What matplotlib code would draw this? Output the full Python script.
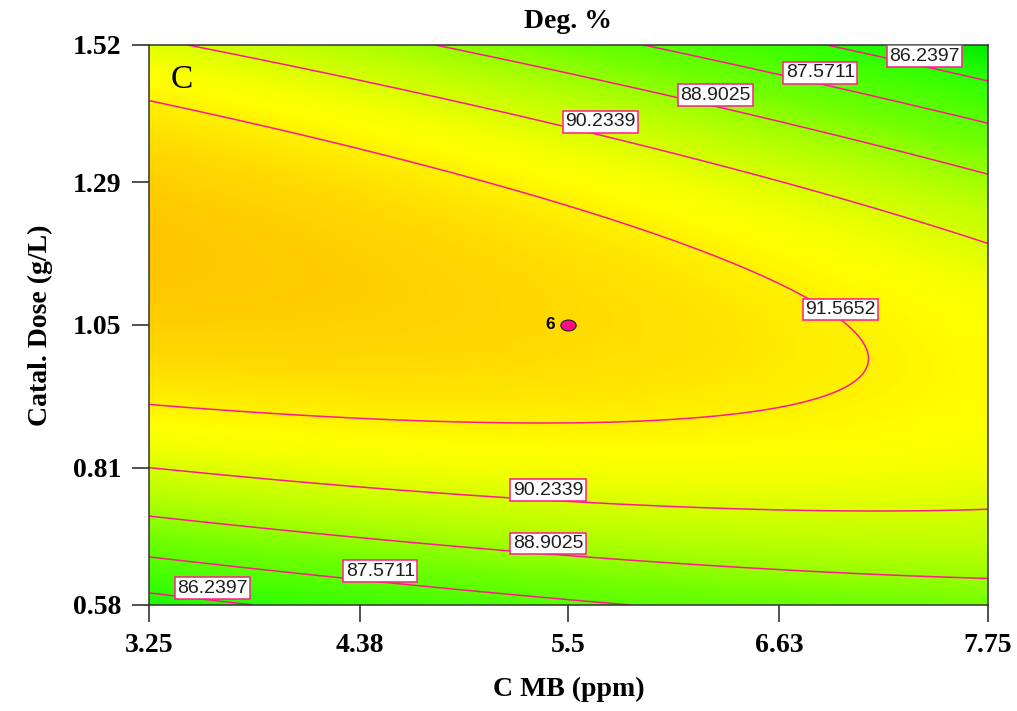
import numpy as np
import matplotlib
matplotlib.use("Agg")
import matplotlib.pyplot as plt
from matplotlib.colors import LinearSegmentedColormap
from matplotlib.markers import MarkerStyle
from matplotlib.transforms import Affine2D

# ---------------- data ----------------
# factor ranges (actual units)
x_range = [3.25, 7.75]          # C MB (ppm)
y_range = [0.58, 1.52]          # Catal. Dose (g/L)
x_ticks = [3.25, 4.38, 5.5, 6.63, 7.75]
x_tick_labels = ["3.25", "4.38", "5.5", "6.63", "7.75"]
y_ticks = [0.58, 0.81, 1.05, 1.29, 1.52]
y_tick_labels = ["0.58", "0.81", "1.05", "1.29", "1.52"]

# quadratic response-surface model in coded factors A, B
# Deg = b0 + bA*A + bB*B + bAB*A*B + bAA*A^2 + bBB*B^2
model_terms = ["b0", "bA", "bB", "bAB", "bAA", "bBB"]
model_coefs = [92.234, -0.746, 0.34, -1.99, -0.392, -4.5]

contour_levels = [86.2397, 87.5711, 88.9025, 90.2339, 91.5652]

# center point (design point, 6 replicates)
center_x = [5.5]
center_y = [1.05]
center_count = ["6"]

# colour scale (response value -> colour)
color_values = [84.9, 86.2, 88.2, 88.9, 89.6, 90.2, 90.8, 91.2, 92.2, 92.9]
color_list = ["#00EB00", "#2CFF00", "#72FF00", "#98FF00", "#BCFF00",
              "#D6FF00", "#F4FF00", "#FFFF00", "#FFDC00", "#FFC600"]

# label placement (layout only)
label_positions = [(7.41, 1.5015), (6.85, 1.4735), (6.29, 1.436), (5.67, 1.391),
                   (6.96, 1.076), (5.39, 0.773), (5.39, 0.6835), (4.49, 0.637),
                   (3.59, 0.608)]

# ---------------- figure ----------------
plt.rcParams['font.family'] = ['Liberation Serif', 'DejaVu Serif']
fig = plt.figure(figsize=(10.17, 7.11), dpi=100)
ax = fig.add_axes([149/1017, 1-605/711, 839/1017, 560/711])

xc = 0.5*(x_range[0]+x_range[1]); xh = 0.5*(x_range[1]-x_range[0])
yc = 0.5*(y_range[0]+y_range[1]); yh = 0.5*(y_range[1]-y_range[0])

xs = np.linspace(x_range[0], x_range[1], 400)
ys = np.linspace(y_range[0], y_range[1], 300)
X, Y = np.meshgrid(xs, ys)
A = (X - xc)/xh
B = (Y - yc)/yh
c = dict(zip(model_terms, model_coefs))
Z = (c["b0"] + c["bA"]*A + c["bB"]*B + c["bAB"]*A*B
     + c["bAA"]*A**2 + c["bBB"]*B**2)

vmin, vmax = color_values[0], color_values[-1]
nodes = [(v - vmin)/(vmax - vmin) for v in color_values]
cmap = LinearSegmentedColormap.from_list("de", list(zip(nodes, color_list)))

ax.imshow(Z, origin="lower", extent=[x_range[0], x_range[1], y_range[0], y_range[1]],
          aspect="auto", cmap=cmap, vmin=vmin, vmax=vmax, interpolation="bilinear")

line_color = "#FF1A8C"
cs = ax.contour(X, Y, Z, levels=contour_levels, colors=line_color, linewidths=1.1)
labels = ax.clabel(cs, fmt="%.4f", inline=False, fontsize=14, manual=label_positions)
for t, pos in zip(labels, label_positions):
    t.set_position(pos)
    t.set_fontfamily(['Liberation Sans', 'DejaVu Sans'])
    t.set_rotation(0)
    t.set_color("#1E1E1E")
    t.set_zorder(5)
    t.set_bbox(dict(facecolor="white", edgecolor=line_color, linewidth=1.1,
                    boxstyle="square,pad=0.12"))

# center point
ell = MarkerStyle("o", transform=Affine2D().scale(1.4, 1.0))
ax.plot(center_x, center_y, linestyle="none", marker=ell, markersize=7.9,
        markerfacecolor="#FF0A82", markeredgecolor="#202020", markeredgewidth=0.8)
for xx, yy, s in zip(center_x, center_y, center_count):
    ax.annotate(s, (xx, yy), xytext=(-13, 0), textcoords="offset points",
                ha="center", va="center", fontsize=12.5, fontweight="bold",
                family=['Liberation Sans', 'DejaVu Sans'])

ax.set_xlim(x_range)
ax.set_ylim(y_range)
ax.set_xticks(x_ticks)
ax.set_xticklabels(x_tick_labels)
ax.set_yticks(y_ticks)
ax.set_yticklabels(y_tick_labels)
ax.tick_params(direction="out", length=12, width=1.1, labelsize=20, pad=8,
               colors="#222222")
for lab in ax.get_xticklabels() + ax.get_yticklabels():
    lab.set_fontweight("bold")
    lab.set_color("black")
for sp in ax.spines.values():
    sp.set_linewidth(1.1)
    sp.set_color("#333333")

ax.set_xlabel("C MB (ppm)", fontsize=20, fontweight="bold", labelpad=14)
ax.set_ylabel("Catal. Dose (g/L)", fontsize=20, fontweight="bold", labelpad=14)
ax.set_title("Deg. %", fontsize=20, fontweight="bold", pad=12)

ax.text(0.026, 0.965, "C", transform=ax.transAxes, fontsize=24, va="top", ha="left")

fig.savefig("out.png", dpi=100)
